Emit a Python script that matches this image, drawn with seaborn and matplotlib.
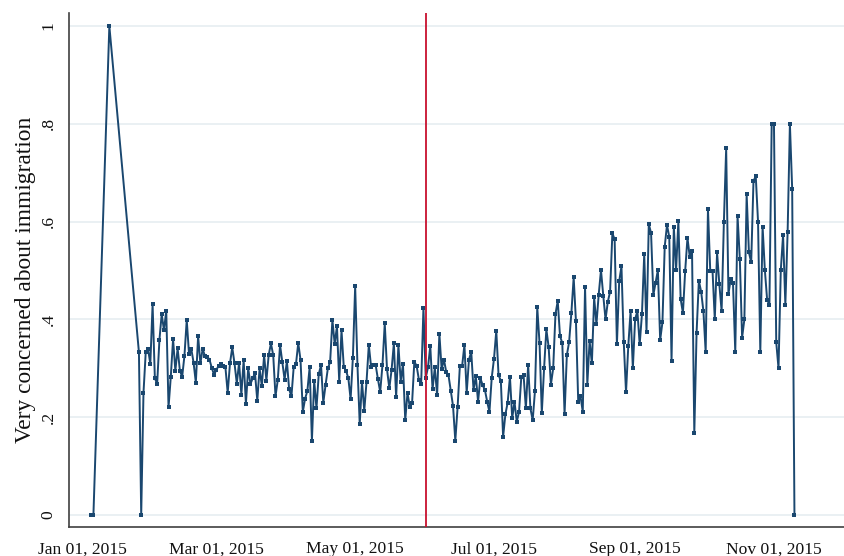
import pandas as pd
import numpy as np
import matplotlib
matplotlib.use("Agg")
import matplotlib.pyplot as plt
import matplotlib.dates as mdates
import seaborn as sns

# sparse early observations
early_dates = ["2015-01-05", "2015-01-06", "2015-01-13", "2015-01-26", "2015-01-27"]
early_vals = [0.0, 0.0, 1.0, 0.333, 0.0]

# daily share from Jan 28 onwards
jan_vals = [0.250, 0.334, 0.340, 0.309]
feb_vals = [0.431, 0.280, 0.268, 0.358, 0.411, 0.378, 0.418, 0.220, 0.283, 0.360,
            0.295, 0.341, 0.295, 0.283, 0.326, 0.399, 0.330, 0.340, 0.312, 0.271,
            0.366, 0.310, 0.340, 0.325, 0.324, 0.318, 0.301, 0.287]
mar_vals = [0.297, 0.305, 0.309, 0.305, 0.302, 0.250, 0.310, 0.343, 0.310, 0.269,
            0.312, 0.246, 0.317, 0.228, 0.300, 0.268, 0.280, 0.290, 0.234, 0.300,
            0.264, 0.327, 0.275, 0.327, 0.351, 0.327, 0.243, 0.276, 0.348, 0.313,
            0.277]
apr_vals = [0.315, 0.257, 0.243, 0.303, 0.309, 0.352, 0.317, 0.211, 0.238, 0.254,
            0.302, 0.152, 0.275, 0.218, 0.288, 0.307, 0.230, 0.266, 0.300, 0.313,
            0.399, 0.350, 0.386, 0.273, 0.378, 0.303, 0.295, 0.280, 0.237, 0.322]
may_vals = [0.468, 0.307, 0.186, 0.273, 0.213, 0.273, 0.348, 0.303, 0.307, 0.307,
            0.278, 0.252, 0.307, 0.392, 0.298, 0.259, 0.297, 0.351, 0.241, 0.348,
            0.273, 0.309, 0.194, 0.250, 0.221, 0.229, 0.314, 0.305, 0.277, 0.269,
            0.424]
jun_vals = [0.281, 0.302, 0.346, 0.257, 0.302, 0.245, 0.371, 0.298, 0.318, 0.293,
            0.286, 0.254, 0.223, 0.152, 0.220, 0.305, 0.305, 0.348, 0.250, 0.318,
            0.334, 0.256, 0.284, 0.232, 0.280, 0.266, 0.256, 0.232, 0.211, 0.281]
jul_vals = [0.320, 0.377, 0.286, 0.275, 0.160, 0.206, 0.230, 0.283, 0.198, 0.232,
            0.191, 0.211, 0.283, 0.286, 0.218, 0.307, 0.218, 0.194, 0.254, 0.425,
            0.352, 0.209, 0.300, 0.380, 0.344, 0.267, 0.300, 0.411, 0.438, 0.366,
            0.352]
aug_vals = [0.206, 0.327, 0.354, 0.414, 0.486, 0.397, 0.232, 0.243, 0.211, 0.467,
            0.267, 0.356, 0.310, 0.445, 0.390, 0.451, 0.501, 0.449, 0.400, 0.436,
            0.457, 0.576, 0.564, 0.349, 0.478, 0.509, 0.354, 0.251, 0.346, 0.417,
            0.300]
sep_vals = [0.401, 0.417, 0.349, 0.411, 0.534, 0.375, 0.595, 0.577, 0.450, 0.475,
            0.501, 0.358, 0.394, 0.549, 0.593, 0.569, 0.315, 0.590, 0.501, 0.601,
            0.442, 0.413, 0.500, 0.567, 0.528, 0.541, 0.167, 0.373, 0.479, 0.457]
oct_vals = [0.417, 0.333, 0.626, 0.500, 0.500, 0.400, 0.537, 0.472, 0.417, 0.600,
            0.750, 0.452, 0.483, 0.474, 0.333, 0.612, 0.524, 0.363, 0.400, 0.656,
            0.537, 0.517, 0.683, 0.693, 0.600, 0.333, 0.590, 0.501, 0.440, 0.430,
            0.800]
nov_vals = [0.800, 0.353, 0.300, 0.501, 0.573, 0.430, 0.579, 0.800, 0.667, 0.0]

policy_date = "2015-06-01"

daily_vals = (jan_vals + feb_vals + mar_vals + apr_vals + may_vals + jun_vals
              + jul_vals + aug_vals + sep_vals + oct_vals + nov_vals)
daily_dates = pd.date_range("2015-01-28", periods=len(daily_vals), freq="D")

df = pd.DataFrame({
    "date": list(pd.to_datetime(early_dates)) + list(daily_dates),
    "share": early_vals + daily_vals,
})

sns.set_style("white")
plt.rcParams["font.family"] = ["Liberation Serif", "DejaVu Serif"]

fig = plt.figure(figsize=(8.45, 5.56), dpi=100)
ax = fig.add_axes([0.0817, 0.0516, 0.9183, 0.9244])

navy = "#1a476f"
ax = sns.lineplot(data=df, x="date", y="share", ax=ax, color=navy, linewidth=1.4,
                  marker="s", markersize=2.2, markeredgewidth=0, markerfacecolor=navy)
ax.axvline(pd.Timestamp(policy_date), color="#c8102e", linewidth=1.3, zorder=3)

ax.set_xlim(pd.Timestamp("2014-12-26 07:00"), pd.Timestamp("2015-12-02 05:00"))
ax.set_ylim(-0.025, 1.026)
ax.set_yticks([0, 0.2, 0.4, 0.6, 0.8, 1.0])
ax.set_yticklabels(["0", ".2", ".4", ".6", ".8", "1"])
for t in ax.get_yticklabels():
    t.set_rotation(90)
    t.set_va("center")

ax.xaxis.set_major_locator(mdates.MonthLocator(bymonth=[1, 3, 5, 7, 9, 11]))
ax.xaxis.set_minor_locator(mdates.MonthLocator(bymonth=[2, 4, 6, 8, 10, 12]))
ax.xaxis.set_major_formatter(mdates.DateFormatter("%b %d, %Y"))

ax.grid(axis="y", color="#e6eef1", linewidth=1.2)
ax.set_axisbelow(True)
for s in ["top", "right"]:
    ax.spines[s].set_visible(False)
for s in ["left", "bottom"]:
    ax.spines[s].set_color("#404040")
    ax.spines[s].set_linewidth(1.2)

ax.tick_params(axis="both", which="both", direction="out", length=8, width=1.1,
               color="#404040", labelsize=12.6, labelcolor="#111111")
ax.tick_params(axis="x", pad=2)
ax.tick_params(axis="y", pad=1)

ax.set_xlabel("")
ax.set_ylabel("Very concerned about immigration", fontsize=16.8, color="#111111")
ax.yaxis.set_label_coords(-0.043, 0.481)

plt.savefig("out.png", dpi=100)
